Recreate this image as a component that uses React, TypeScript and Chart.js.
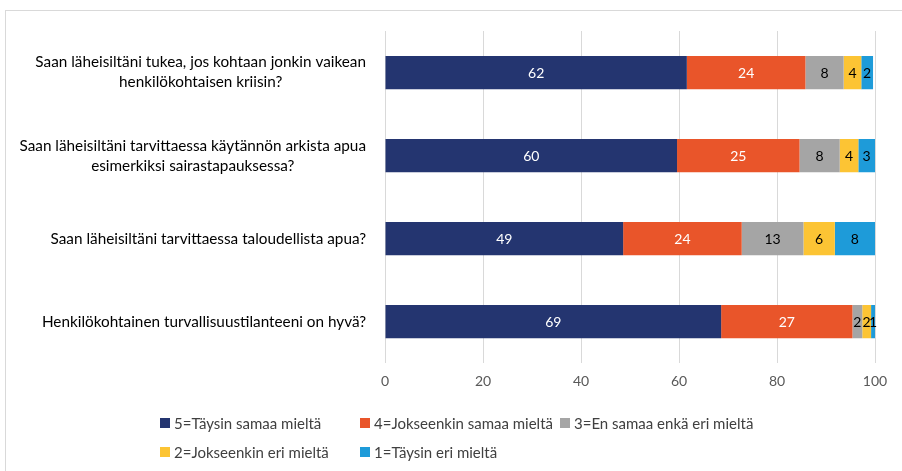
import React, { useEffect, useRef } from "react";
import { Chart, registerables } from "chart.js";
Chart.register(...registerables);

const categories: string[][] = [
  ["Saan läheisiltäni tukea, jos kohtaan jonkin vaikean", "henkilökohtaisen kriisin?"],
  ["Saan läheisiltäni tarvittaessa käytännön arkista apua", "esimerkiksi sairastapauksessa?"],
  ["Saan läheisiltäni tarvittaessa taloudellista apua?"],
  ["Henkilökohtainen turvallisuustilanteeni on hyvä?"],
];
const seriesNames = [
  "5=Täysin samaa mieltä",
  "4=Jokseenkin samaa mieltä",
  "3=En samaa enkä eri mieltä",
  "2=Jokseenkin eri mieltä",
  "1=Täysin eri mieltä",
];
const s5 = [61.6, 59.6, 48.6, 68.6];
const s4 = [24.2, 25.0, 24.2, 26.8];
const s3 = [7.8, 8.2, 12.6, 2.0];
const s2 = [3.6, 3.8, 6.4, 1.8];
const s1 = [2.4, 3.4, 8.2, 0.8];
const xTicks = [0, 20, 40, 60, 80, 100];

const colors = ["#243570", "#E9552A", "#A5A5A5", "#FCC434", "#1E9BD9"];
const labelColors = ["#ffffff", "#ffffff", "#000000", "#000000", "#000000"];
const FONT = "Lato, 'Open Sans', sans-serif";

const framePlugin = {
  id: "frame",
  beforeDraw(chart: any) {
    const ctx = chart.ctx;
    ctx.save();
    ctx.fillStyle = "#ffffff";
    ctx.fillRect(0, 0, chart.width, chart.height);
    ctx.strokeStyle = "#d9d9d9";
    ctx.lineWidth = 1;
    ctx.strokeRect(5.5, 10.5, chart.width + 50, chart.height + 50);
    ctx.restore();
  },
};

const labelsPlugin = {
  id: "customLabels",
  afterDraw(chart: any) {
    const ctx = chart.ctx;
    const yScale = chart.scales.y;
    const area = chart.chartArea;
    ctx.save();
    // category labels
    ctx.font = `15.3px ${FONT}`;
    ctx.fillStyle = "#000000";
    ctx.textAlign = "center";
    ctx.textBaseline = "middle";
    const lineH = 20;
    categories.forEach((lines, i) => {
      const py = yScale.getPixelForTick(i);
      const maxW = Math.max(...lines.map((l) => ctx.measureText(l).width));
      const cx = area.left - 19 - maxW / 2;
      const y0 = py - ((lines.length - 1) * lineH) / 2;
      lines.forEach((l, j) => ctx.fillText(l, cx, y0 + j * lineH));
    });
    // data labels
    ctx.font = `14px ${FONT}`;
    chart.data.datasets.forEach((ds: any, di: number) => {
      const meta = chart.getDatasetMeta(di);
      meta.data.forEach((bar: any, i: number) => {
        const v = ds.data[i];
        ctx.fillStyle = labelColors[di];
        ctx.fillText(String(Math.round(v)), (bar.x + bar.base) / 2, bar.y + 1);
      });
    });
    // legend
    ctx.font = `15px ${FONT}`;
    ctx.textAlign = "left";
    const legendLeft = 160;
    const colW = 200;
    const rowY = [423, 452];
    const perRow = 3;
    seriesNames.forEach((name, k) => {
      const r = Math.floor(k / perRow);
      const c = k % perRow;
      const x = legendLeft + c * colW;
      const y = rowY[r];
      ctx.fillStyle = colors[k];
      ctx.fillRect(x, y - 5, 10, 10);
      ctx.fillStyle = "#404040";
      ctx.fillText(name, x + 14, y + 1);
    });
    ctx.restore();
  },
};

export default function App() {
  const ref = useRef<HTMLCanvasElement | null>(null);
  useEffect(() => {
    if (!ref.current) return;
    const series = [s5, s4, s3, s2, s1];
    const chart = new Chart(ref.current, {
      type: "bar",
      data: {
        labels: categories.map((c) => c.join(" ")),
        datasets: series.map((d, k) => ({
          label: seriesNames[k],
          data: d,
          backgroundColor: colors[k],
          borderWidth: 0,
          barPercentage: 1,
          categoryPercentage: 0.4,
        })),
      },
      options: {
        indexAxis: "y",
        animation: false,
        responsive: false,
        maintainAspectRatio: false,
        layout: { padding: { left: 377, right: 27, top: 31, bottom: 71 } },
        plugins: { legend: { display: false }, tooltip: { enabled: false } },
        scales: {
          x: {
            stacked: true,
            min: 0,
            max: 100,
            afterBuildTicks: (axis: any) => {
              axis.ticks = xTicks.map((v) => ({ value: v }));
            },
            grid: { color: "#d9d9d9", drawTicks: false },
            border: { display: false },
            ticks: { color: "#595959", font: { family: FONT, size: 14 }, padding: 10 },
          },
          y: {
            stacked: true,
            grid: { display: false },
            border: { display: false },
            ticks: { display: false },
          },
        },
      },
      plugins: [framePlugin, labelsPlugin],
    });
    return () => chart.destroy();
  }, []);
  return (
    <div style={{ position: "absolute", left: 0, top: 0, width: 902, height: 471 }}>
      <canvas ref={ref} width={902} height={471} style={{ width: 902, height: 471, display: "block" }} />
    </div>
  );
}
